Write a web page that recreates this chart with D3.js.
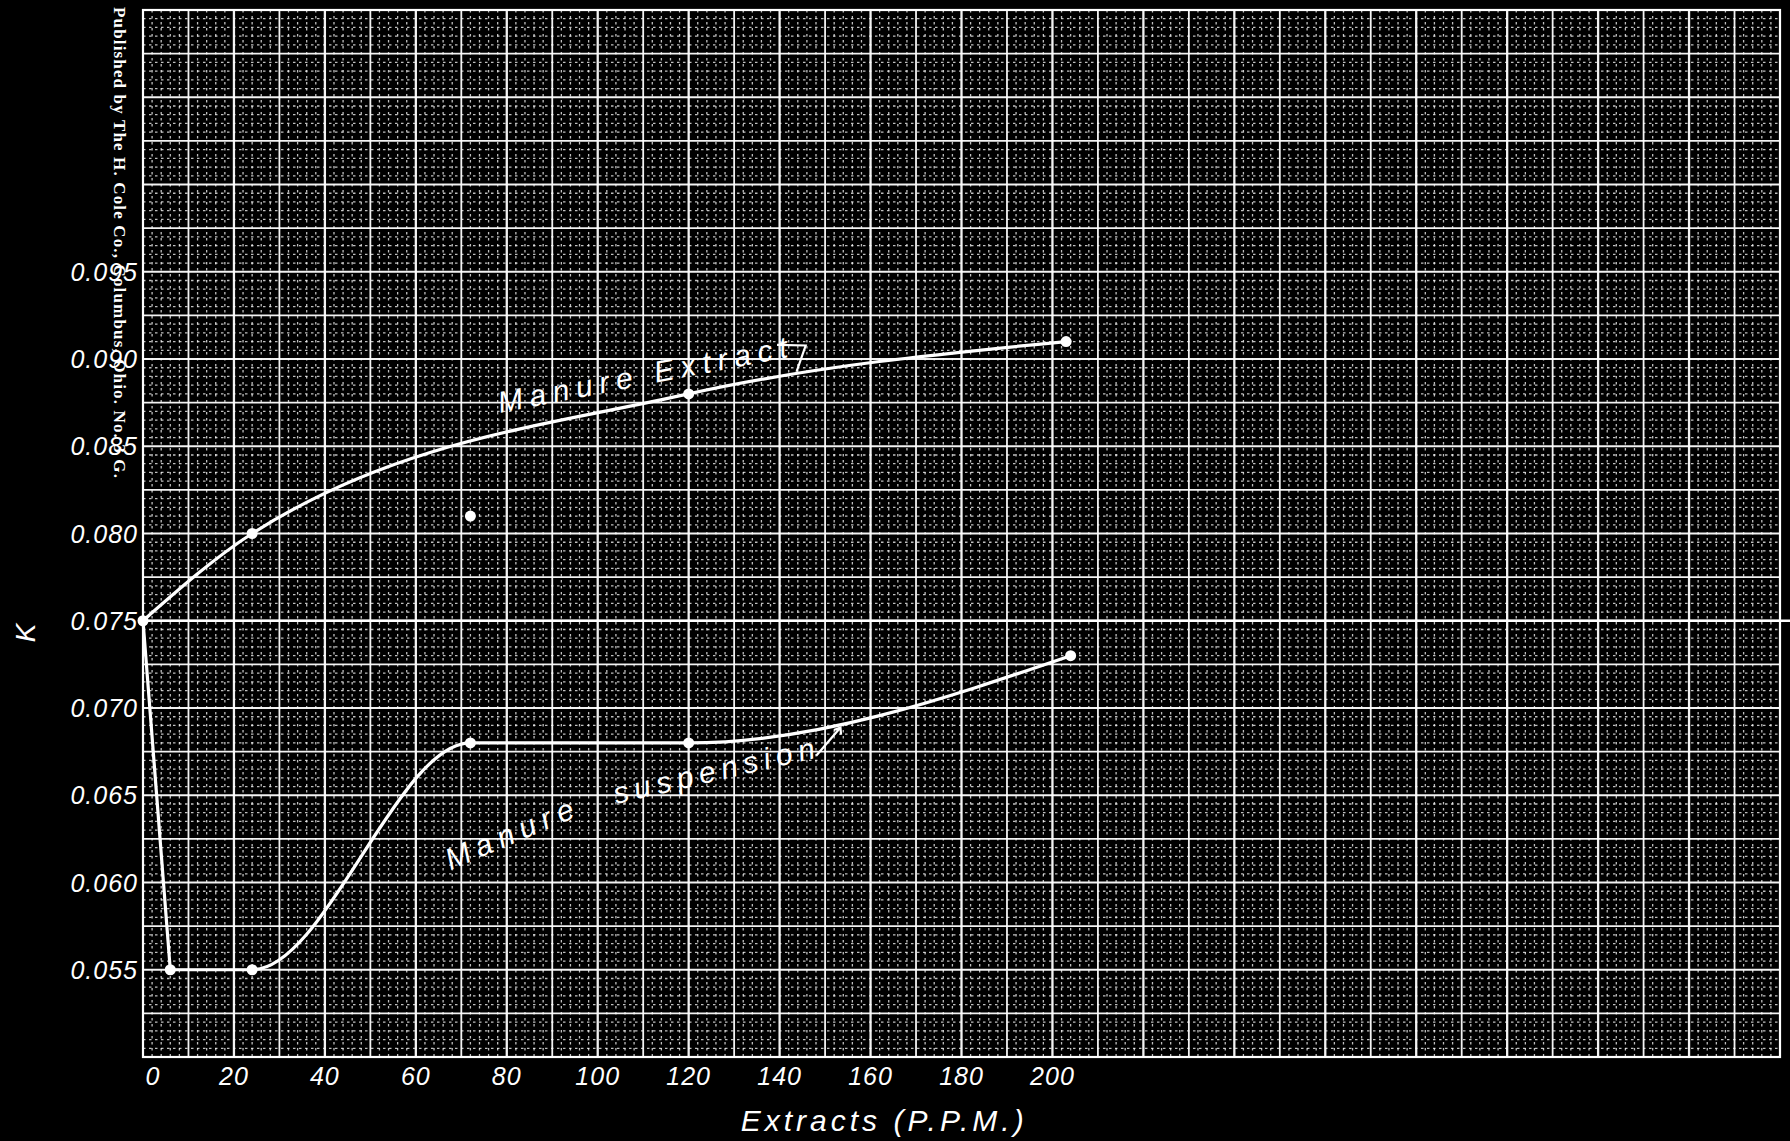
<!DOCTYPE html>
<html>
<head>
<meta charset="utf-8">
<script src="https://cdn.jsdelivr.net/npm/d3@7"></script>
<style>
  html, body { margin: 0; padding: 0; background: #000; overflow: hidden; }
  svg { display: block; width: 100vw; height: 100vh; }
  .hand { font-family: "Liberation Sans", Arial, sans-serif; font-style: italic; fill: #fff; }
</style>
</head>
<body>
<div id="viz"></div>
<script>
const extractPPM = [0, 24, 120, 203];
const extractK = [0.075, 0.080, 0.088, 0.091];
const suspensionPPM = [0, 6, 24, 72, 120, 204];
const suspensionK = [0.075, 0.055, 0.055, 0.068, 0.068, 0.073];
const loosePPM = [72];
const looseK = [0.081];
// Ticks
const xTickValues = [0, 20, 40, 60, 80, 100, 120, 140, 160, 180, 200];
const yTickValues = [0.055, 0.060, 0.065, 0.070, 0.075, 0.080, 0.085, 0.090, 0.095];
// Texts
const xLabel = "Extracts (P.P.M.)";
const yLabel = "K";
const publisher = "Published by The H. Cole Co., Columbus, Ohio.  No. 3 G.";

// Chart geometry
const width = 1790;
const height = 1141;
const margin = {top: 10, right: 10, bottom: 84, left: 143};
const innerWidth = width - margin.left - margin.right;
const innerHeight = height - margin.top - margin.bottom;
const xMax = 360;

// viewBox keeps the whole sheet inside the window
const svg = d3.select("#viz").append("svg")
  .attr("viewBox", "0 0 " + width + " " + height)
  .attr("preserveAspectRatio", "xMidYMid meet");

svg.append("rect").attr("width", width).attr("height", height).attr("fill", "#000");

const g = svg.append("g")
  .attr("transform", "translate(" + margin.left + "," + margin.top + ")");

const xScale = d3.scaleLinear().domain([0, xMax]).range([0, innerWidth]);
const yScale = d3.scaleLinear().domain([0.050, 0.110]).range([innerHeight, 0]);

// Fine dotted graph paper lines (2 ppm, 0.0005 K)
const fineX = d3.range(0, xMax + 1, 2).filter(d => d % 10 !== 0);
const fineY = d3.range(0, 121).filter(i => i % 5 !== 0).map(i => 0.050 + i * 0.0005);
g.append("g").selectAll("line").data(fineX).join("line")
  .attr("x1", d => xScale(d)).attr("x2", d => xScale(d))
  .attr("y1", 0).attr("y2", innerHeight)
  .attr("stroke", "#fff").attr("stroke-width", 1.3)
  .attr("stroke-dasharray", "2.5 3.5").attr("opacity", 0.75);
g.append("g").selectAll("line").data(fineY).join("line")
  .attr("x1", 0).attr("x2", innerWidth)
  .attr("y1", d => yScale(d)).attr("y2", d => yScale(d))
  .attr("stroke", "#fff").attr("stroke-width", 1.3)
  .attr("stroke-dasharray", "2.5 3.5").attr("opacity", 0.75);

// Heavier lines (10 ppm, 0.0025 K)
const majorX = d3.range(10, xMax, 10);
const majorY = d3.range(1, 24).map(i => 0.050 + i * 0.0025);
g.append("g").selectAll("line").data(majorX).join("line")
  .attr("x1", d => xScale(d)).attr("x2", d => xScale(d))
  .attr("y1", 0).attr("y2", innerHeight)
  .attr("stroke", "#fff")
  .attr("stroke-width", d => d % 20 === 0 ? 2.3 : 1.8)
  .attr("opacity", 0.95);
g.append("g").selectAll("line").data(majorY).join("line")
  .attr("x1", 0).attr("x2", innerWidth)
  .attr("y1", d => yScale(d)).attr("y2", d => yScale(d))
  .attr("stroke", "#fff")
  .attr("stroke-width", 1.9)
  .attr("opacity", 0.95);

// Border
g.append("rect")
  .attr("width", innerWidth).attr("height", innerHeight)
  .attr("fill", "none").attr("stroke", "#fff").attr("stroke-width", 2.2);

// Reference line at K = 0.075, runs off the sheet
g.append("line")
  .attr("x1", 0).attr("x2", width - margin.left)
  .attr("y1", yScale(0.075)).attr("y2", yScale(0.075))
  .attr("stroke", "#fff").attr("stroke-width", 2.6);

// Y tick labels
g.append("g").selectAll("text").data(yTickValues).join("text")
  .attr("class", "hand")
  .attr("x", -5)
  .attr("y", d => yScale(d))
  .attr("dy", "0.36em")
  .attr("text-anchor", "end")
  .style("font-size", "25px")
  .style("letter-spacing", "1px")
  .text(d => d3.format(".3f")(d));

// X tick labels
g.append("g").selectAll("text").data(xTickValues).join("text")
  .attr("class", "hand")
  .attr("x", d => xScale(d))
  .attr("dx", d => d === 0 ? 10 : 0)
  .attr("y", innerHeight + 19)
  .attr("dy", "0.36em")
  .attr("text-anchor", "middle")
  .style("font-size", "25px")
  .style("letter-spacing", "1px")
  .text(d => d);

// Axis labels
g.append("text")
  .attr("class", "hand")
  .attr("x", xScale(163))
  .attr("y", innerHeight + 63)
  .attr("dy", "0.36em")
  .attr("text-anchor", "middle")
  .style("font-size", "30px")
  .style("letter-spacing", "4px")
  .text(xLabel);

svg.append("text")
  .attr("class", "hand")
  .attr("transform", "translate(25," + (margin.top + yScale(0.0743)) + ") rotate(-90)")
  .attr("text-anchor", "middle")
  .attr("dy", "0.36em")
  .style("font-size", "28px")
  .text(yLabel);

// Publisher line printed along the left edge
svg.append("text")
  .attr("transform", "translate(114,7) rotate(90)")
  .attr("textLength", 471)
  .attr("lengthAdjust", "spacing")
  .style("font-family", "'Liberation Serif', 'Times New Roman', serif")
  .style("font-size", "17px")
  .style("font-weight", "bold")
  .attr("fill", "#fff")
  .text(publisher);

// Curves
const extractData = extractPPM.map((d, i) => ({x: d, k: extractK[i]}));
const suspensionData = suspensionPPM.map((d, i) => ({x: d, k: suspensionK[i]}));
const looseData = loosePPM.map((d, i) => ({x: d, k: looseK[i]}));

const smoothLine = d3.line()
  .x(d => xScale(d.x))
  .y(d => yScale(d.k))
  .curve(d3.curveMonotoneX);
const straightLine = d3.line()
  .x(d => xScale(d.x))
  .y(d => yScale(d.k));

g.append("path")
  .attr("d", smoothLine(extractData))
  .attr("fill", "none").attr("stroke", "#fff").attr("stroke-width", 3.2)
  .attr("stroke-linecap", "round");
// the suspension curve drops straight down, then is drawn smooth
g.append("path")
  .attr("d", straightLine(suspensionData.slice(0, 2)))
  .attr("fill", "none").attr("stroke", "#fff").attr("stroke-width", 3.2)
  .attr("stroke-linecap", "round");
g.append("path")
  .attr("d", smoothLine(suspensionData.slice(1)))
  .attr("fill", "none").attr("stroke", "#fff").attr("stroke-width", 3.2)
  .attr("stroke-linecap", "round");

// Markers
g.append("g").selectAll("circle")
  .data(extractData.concat(suspensionData.slice(1), looseData))
  .join("circle")
  .attr("cx", d => xScale(d.x))
  .attr("cy", d => yScale(d.k))
  .attr("r", 5.5)
  .attr("fill", "#fff");

// Curve names, lettered along the curves
const extractTag = g.append("g")
  .attr("transform", "translate(" + xScale(78.5) + "," + yScale(0.0869) + ") rotate(-11)");
extractTag.append("text")
  .attr("class", "hand")
  .style("font-size", "30px")
  .style("letter-spacing", "7px")
  .text("Manure Extract");
extractTag.append("path")
  .attr("d", "M285,-14 L313,-8 L299,16")
  .attr("fill", "none").attr("stroke", "#fff").attr("stroke-width", 2.2);

g.append("text")
  .attr("class", "hand")
  .attr("transform", "translate(" + xScale(67.6) + "," + yScale(0.0607) + ") rotate(-23)")
  .style("font-size", "30px")
  .style("letter-spacing", "7px")
  .text("Manure");

const suspTag = g.append("g")
  .attr("transform", "translate(" + xScale(104) + "," + yScale(0.0645) + ") rotate(-13)");
suspTag.append("text")
  .attr("class", "hand")
  .style("font-size", "30px")
  .style("letter-spacing", "6px")
  .text("suspension");
suspTag.append("path")
  .attr("d", "M206,-2 L236,-24 M229,-23 L236,-24 L235,-17")
  .attr("fill", "none").attr("stroke", "#fff").attr("stroke-width", 2.2);
</script>
</body>
</html>
